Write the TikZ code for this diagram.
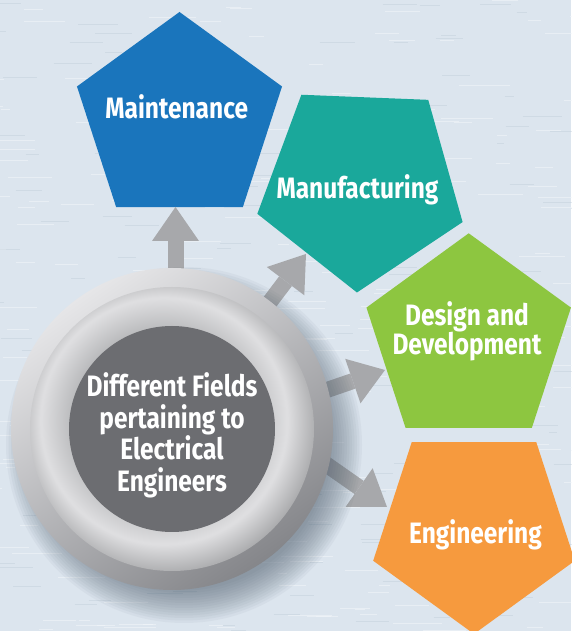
\documentclass[tikz,border=0pt]{standalone}
\usepackage{fontspec}
\setmainfont{Fira Sans}[FakeStretch=0.83]
\usetikzlibrary{arrows.meta,shapes.geometric,calc}
\definecolor{bgc}{HTML}{DCE5EE}
\definecolor{grainlight}{HTML}{F2F6FA}
\definecolor{graindark}{HTML}{B8C6D4}
\definecolor{cblue}{HTML}{1A75BC}
\definecolor{cteal}{HTML}{1AA89B}
\definecolor{cgreen}{HTML}{8DC640}
\definecolor{corange}{HTML}{F69A3E}
\definecolor{arrc}{HTML}{A7A8AB}
\definecolor{rimlight}{HTML}{E6E6E8}
\definecolor{rimmid}{HTML}{C4C5C7}
\definecolor{rimdark}{HTML}{85868A}
\definecolor{ringA}{HTML}{B2B3B5}
\definecolor{ringB}{HTML}{DFDFE1}
\definecolor{ringC}{HTML}{97989A}
\definecolor{coredark}{HTML}{6C6D71}
\definecolor{shadowc}{HTML}{4A5A6A}
\pgfdeclareradialshading{ringshade}{\pgfpoint{-2.5bp}{2.5bp}}{color(0bp)=(ringA); color(14.6bp)=(ringA); color(21.7bp)=(ringB); color(28.5bp)=(ringC); color(50bp)=(ringC)}
\begin{document}
\begin{tikzpicture}[x=1pt,y=1pt,
  pent/.style={regular polygon, regular polygon sides=5, inner sep=0pt, outer sep=0pt, draw=none},
  lbl/.style={text=white, font=\fontsize{29.5}{31.7}\selectfont\bfseries, align=center, anchor=base, inner sep=0pt},
  arr/.style={draw=arrc, line width=16pt, -{Triangle[length=34pt 0 0, width=47pt 0 0, line width=0pt 0 0]}}
]
\useasboundingbox (0,0) rectangle (571,631);
\fill[bgc] (0,0) rectangle (571,631);
% wood-grain texture of the background
\pgfmathsetseed{11}
\foreach \i in {1,...,260}{
  \pgfmathsetmacro{\gx}{rnd*600-20}
  \pgfmathsetmacro{\gy}{rnd*631}
  \pgfmathsetmacro{\gl}{8+rnd*45}
  \draw[grainlight, opacity=0.55, line width=0.7pt] (\gx,\gy) -- ++(\gl,0);
}
\foreach \i in {1,...,160}{
  \pgfmathsetmacro{\gx}{rnd*600-20}
  \pgfmathsetmacro{\gy}{rnd*631}
  \pgfmathsetmacro{\gl}{6+rnd*35}
  \draw[graindark, opacity=0.35, line width=0.6pt] (\gx,\gy) -- ++(\gl,0);
}
% pentagons
\node[pent, fill=cblue, minimum size=215.6pt] (maint) at (179.5,511.2) {};
\node[pent, fill=cteal, minimum size=216pt, shape border rotate=33.7] (manuf) at (361.3,446.4) {};
\node[pent, fill=cgreen, minimum size=215pt] (design) at (468.7,290.2) {};
\node[pent, fill=corange, minimum size=212pt, shape border rotate=180] (eng) at (474,103) {};
\node[lbl] (tmaint) at (176.7,512.7) {Maintenance};
\node[lbl] (tmanuf) at (357.5,432.7) {Manufacturing};
\node[lbl, font=\fontsize{29.5}{28.5}\selectfont\bfseries] (tdesign) at (467,276) {Design and\\Development};
\node[lbl] (teng) at (475.5,87.7) {Engineering};
% arrows
\coordinate (cc) at (172,202);
\coordinate (t1) at (175.5,424); \coordinate (s1) at ($(t1)+(270:130)$);
\coordinate (t2) at (306,377);   \coordinate (s2) at ($(t2)+(233:170)$);
\coordinate (t3) at (385,261);   \coordinate (s3) at ($(t3)+(199:170)$);
\coordinate (t4) at (387,124);   \coordinate (s4) at ($(t4)+(145:170)$);
\draw[arr] (s1) -- (t1);
\draw[arr] (s2) -- (t2);
\draw[arr] (s3) -- (t3);
\draw[arr] (s4) -- (t4);
% shadow
\foreach \k in {0,...,13}
  \fill[shadowc, opacity=0.05] ($(cc)+(12,-16)$) circle ({178-2.5*\k});
% button
\shade[top color=rimlight, middle color=rimmid, bottom color=rimdark, shading angle=35] (cc) circle (161);
\shade[shading=ringshade] (cc) circle (142);
\node[circle, fill=coredark, minimum size=206pt, inner sep=0pt] (core) at (cc) {};
\node[lbl] (tcore) at (172,139.5) {Different Fields\\pertaining to\\Electrical\\Engineers};
\end{tikzpicture}
\end{document}
